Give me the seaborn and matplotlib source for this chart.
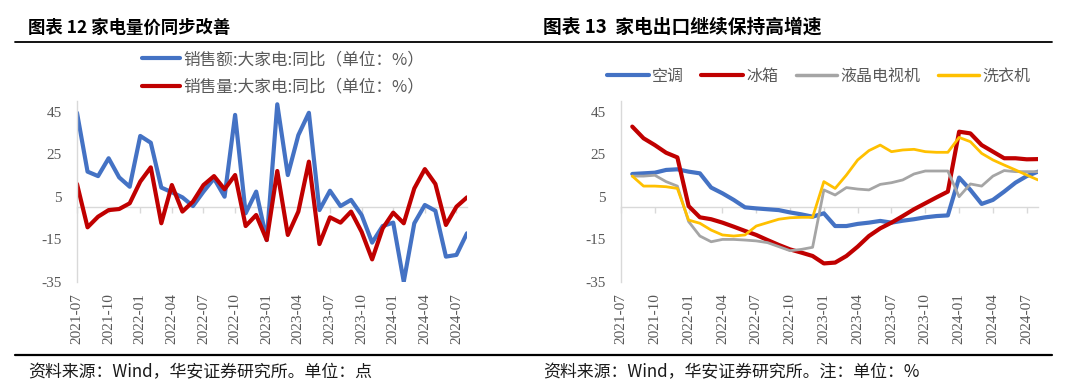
import numpy as np
import pandas as pd
import matplotlib
matplotlib.use("Agg")
import matplotlib.pyplot as plt
from matplotlib.lines import Line2D
import seaborn as sns

# ---------------- data ----------------
months = list(pd.period_range("2021-07", "2024-08", freq="M").strftime("%Y-%m"))
tick_labels = ["2021-07", "2021-10", "2022-01", "2022-04", "2022-07", "2022-10",
               "2023-01", "2023-04", "2023-07", "2023-10", "2024-01", "2024-04", "2024-07"]

# Left chart (2021-07 .. 2024-08)
sales_value = [44.5, 16.8, 14.7, 23.1, 14.1, 9.7, 33.6, 30.4, 9.3, 7.1, 4.7, 0.6,
               7.4, 13.6, 5.0, 43.5, -2.8, 7.4, -15.4, 48.5, 15.2, 34.0, 44.5, -1.3,
               7.8, 0.6, 3.5, -3.6, -16.6, -8.8, -7.2, -35.0, -7.5, 1.1, -1.6, -23.2,
               -22.4, -12.2]
sales_volume = [11.0, -9.4, -4.4, -1.3, -0.8, 1.9, 12.1, 18.8, -7.5, 10.5, -2.0, 2.7,
                10.5, 14.7, 8.5, 15.2, -8.8, -3.6, -15.4, 17.1, -13.0, -2.0, 21.5, -17.3,
                -4.7, -7.2, -2.0, -11.5, -24.5, -9.9, -2.5, -7.5, 8.9, 18.0, 11.0, -8.3,
                0.3, 4.7]

# Right chart (2021-08 .. 2024-08; 2021-07 has no value)
export_ac = [15.7, 16.0, 16.3, 17.6, 17.9, 16.8, 16.0, 9.3, 6.6, 3.5, 0.0, -0.5,
             -0.9, -1.3, -2.4, -3.3, -4.4, -2.8, -8.8, -8.8, -7.8, -7.2, -6.4, -7.2,
             -6.3, -5.6, -4.7, -4.1, -3.8, 14.0, 8.2, 1.6, 3.5, 7.4, 11.6, 14.7, 16.8]
export_fridge = [38.0, 32.5, 29.3, 25.7, 23.5, 0.6, -4.7, -5.6, -7.2, -9.1, -11.1, -13.0,
                 -15.4, -17.7, -19.8, -21.3, -22.9, -26.4, -26.0, -22.9, -18.5, -13.5, -9.9, -7.2,
                 -4.1, -0.9, 1.9, 4.7, 7.4, 35.6, 34.8, 29.3, 26.2, 23.1, 23.1, 22.6, 22.7]
export_tv = [14.7, 14.7, 15.1, 12.1, 10.0, -6.7, -13.5, -16.2, -15.1, -15.1, -15.4, -15.8,
             -16.6, -18.5, -20.4, -19.8, -18.8, 8.2, 5.8, 9.3, 8.6, 8.2, 10.8, 11.6,
             12.9, 15.7, 17.1, 17.1, 17.1, 5.0, 11.0, 10.0, 14.7, 17.3, 16.8, 16.8, 16.8]
export_washer = [14.7, 10.0, 10.0, 9.7, 8.9, -6.0, -7.5, -10.7, -13.0, -13.5, -13.0, -8.8,
                 -7.2, -5.6, -4.9, -4.7, -4.7, 12.1, 8.9, 15.2, 22.3, 26.7, 29.3, 26.2,
                 27.0, 27.3, 26.2, 25.9, 25.9, 32.9, 30.9, 25.4, 22.3, 19.9, 17.6, 15.2, 12.9]

left_names = ["销售额:大家电:同比（单位：%）", "销售量:大家电:同比（单位：%）"]
right_names = ["空调", "冰箱", "液晶电视机", "洗衣机"]

# ---------------- style ----------------
sns.set_theme(style="white")
plt.rcParams["font.family"] = ["Noto Sans CJK SC", "DejaVu Sans"]
plt.rcParams["axes.unicode_minus"] = False

BLUE, RED, GRAY, YELLOW = "#4472C4", "#C00000", "#A5A5A5", "#FFC000"
AXC = "#D9D9D9"
TXT = "#595959"

W, H = 1080, 384
fig = plt.figure(figsize=(W / 100, H / 100), dpi=100)

def fx(px):
    return px / W

def fy(py):
    return 1 - py / H

x_idx = np.arange(len(months))
tick_pos = [months.index(t) for t in tick_labels]
YMIN, YMAX = -35, 50

def style_axes(ax):
    ax.set_xlim(0, len(months) - 1)
    ax.set_ylim(YMIN, YMAX)
    ax.set_yticks([-35, -15, 5, 25, 45])
    ax.set_xticks(tick_pos)
    ax.set_xticklabels(tick_labels, rotation=90, fontfamily="Liberation Serif",
                       fontsize=11, color=TXT)
    for lab in ax.get_yticklabels():
        lab.set_fontfamily("Liberation Serif")
        lab.set_fontsize(11)
        lab.set_color(TXT)
    ax.tick_params(axis="x", length=0, pad=8)
    ax.tick_params(axis="y", length=0, pad=11)
    for s in ["top", "right", "bottom"]:
        ax.spines[s].set_visible(False)
    ax.spines["left"].set_color(AXC)
    ax.spines["left"].set_linewidth(1.0)
    ax.set_xlabel("")
    ax.set_ylabel("")
    ax.grid(False)
    # horizontal category axis crossing at zero
    sec = ax.secondary_xaxis((0 - YMIN) / (YMAX - YMIN))
    sec.set_xticks(tick_pos)
    sec.set_xticklabels([])
    sec.tick_params(axis="x", direction="out", length=4, width=1, color=AXC)
    for s in sec.spines.values():
        s.set_color(AXC)
        s.set_linewidth(1.0)

# ---------------- left chart ----------------
axL = fig.add_axes([fx(77), fy(281.7), fx(467) - fx(77), (281.7 - 101.1) / H])
sns.lineplot(x=x_idx, y=sales_value, ax=axL, color=BLUE, linewidth=3.0,
             label=left_names[0], legend=False)
sns.lineplot(x=x_idx, y=sales_volume, ax=axL, color=RED, linewidth=3.0,
             label=left_names[1], legend=False)
style_axes(axL)

hL = [Line2D([0], [0], color=BLUE, lw=3.0), Line2D([0], [0], color=RED, lw=3.0)]
fig.legend(hL, left_names, loc="upper left", bbox_to_anchor=(fx(142), fy(51)),
           frameon=False, ncol=1, handlelength=2.3, handletextpad=0.2,
           labelspacing=0.65, borderpad=0, borderaxespad=0,
           prop={"family": ["Noto Sans CJK SC", "DejaVu Sans"], "size": 12},
           labelcolor=TXT)

# ---------------- right chart ----------------
axR = fig.add_axes([fx(621), fy(281.7), fx(1038) - fx(621), (281.7 - 101.1) / H])
x_r = x_idx[1:]
sns.lineplot(x=x_r, y=export_ac, ax=axR, color=BLUE, linewidth=3.0, legend=False)
sns.lineplot(x=x_r, y=export_fridge, ax=axR, color=RED, linewidth=3.0, legend=False)
sns.lineplot(x=x_r, y=export_tv, ax=axR, color=GRAY, linewidth=2.0, legend=False)
sns.lineplot(x=x_r, y=export_washer, ax=axR, color=YELLOW, linewidth=2.0, legend=False)
style_axes(axR)

hR = [Line2D([0], [0], color=BLUE, lw=3.0), Line2D([0], [0], color=RED, lw=3.0),
      Line2D([0], [0], color=GRAY, lw=2.5), Line2D([0], [0], color=YELLOW, lw=2.5)]
fig.legend(hR, right_names, loc="upper left", bbox_to_anchor=(fx(607), fy(68)),
           frameon=False, ncol=4, handlelength=2.6, handletextpad=0.2,
           columnspacing=1.1, borderpad=0, borderaxespad=0,
           prop={"family": ["Noto Sans CJK SC", "DejaVu Sans"], "size": 11.5},
           labelcolor=TXT)

# ---------------- titles, rules, sources ----------------
fig.text(fx(28), fy(27.5), "图表 12 家电量价同步改善", fontsize=12.5, fontweight="bold",
         va="center", ha="left", color="black")
fig.text(fx(543), fy(27), "图表 13  家电出口继续保持高增速", fontsize=13.5, fontweight="bold",
         va="center", ha="left", color="black")
fig.add_artist(Line2D([fx(15), fx(1052)], [fy(41.5), fy(41.5)], color="black", lw=1.3))
fig.add_artist(Line2D([fx(15), fx(1052)], [fy(355), fy(355)], color="black", lw=1.6))
fig.text(fx(28), fy(372), "资料来源：Wind，华安证券研究所。单位：点", fontsize=12.2,
         va="center", ha="left", color="#1a1a1a")
fig.text(fx(543), fy(372), "资料来源：Wind，华安证券研究所。注：单位：%", fontsize=12.2,
         va="center", ha="left", color="#1a1a1a")

fig.savefig("out.png", dpi=100)
